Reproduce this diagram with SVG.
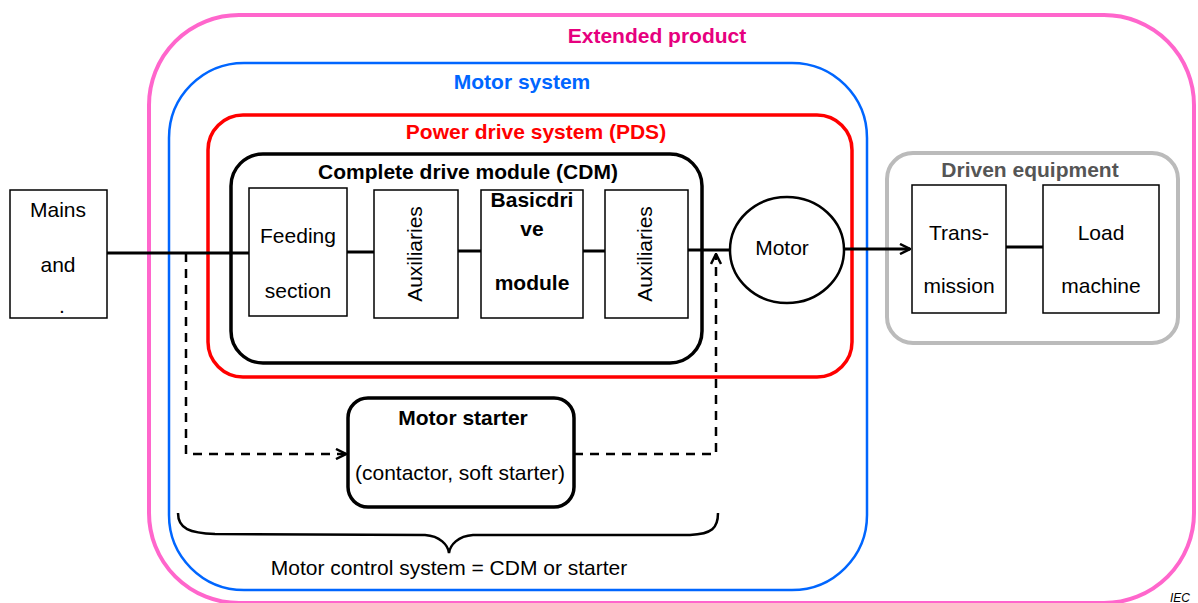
<svg xmlns="http://www.w3.org/2000/svg" width="1198" height="603" viewBox="0 0 1198 603">
<defs>
<style>
text{font-family:"Liberation Sans",Arial,sans-serif;font-size:21px;fill:#000}
.b{font-weight:bold}
.c{text-anchor:middle}
.box{fill:#fff;stroke:#000;stroke-width:1.5}
.ln{fill:none;stroke:#000;stroke-width:3}
.dash{fill:none;stroke:#000;stroke-width:2.5;stroke-dasharray:9,7}
</style>
<marker id="arr" viewBox="0 0 12 12" refX="11" refY="6" markerWidth="12" markerHeight="12" markerUnits="userSpaceOnUse" orient="auto">
<path d="M1,1 L11,6 L1,11" fill="none" stroke="#000" stroke-width="2.5"/>
</marker>
</defs>
<rect width="1198" height="603" fill="#fff"/>
<g id="extended-product">
<rect x="149" y="15" width="1045" height="588" rx="90" fill="none" stroke="#ff66cc" stroke-width="4"/>
<text class="b c" x="657" y="43" style="fill:#e6007e">Extended product</text>
</g>
<g id="motor-system">
<rect x="169" y="63" width="698" height="527" rx="75" fill="none" stroke="#0066ff" stroke-width="2.5"/>
<text class="b c" x="522" y="89" style="fill:#0066ff">Motor system</text>
</g>
<g id="pds">
<rect x="208" y="115" width="644" height="262" rx="35" fill="none" stroke="#ff0000" stroke-width="3.5"/>
<text class="b c" x="536" y="139" style="fill:#ff0000">Power drive system (PDS)</text>
</g>
<g id="cdm">
<rect x="231" y="154" width="471" height="209" rx="32" fill="none" stroke="#000" stroke-width="3.5"/>
<text class="b c" x="468" y="179">Complete drive module (CDM)</text>
</g>
<g id="driven-equipment">
<rect x="887" y="153" width="291" height="190" rx="26" fill="none" stroke="#bbbbbb" stroke-width="4"/>
<text class="b c" x="1030" y="177" style="fill:#555">Driven equipment</text>
</g>
<g id="connectors">
<line class="ln" x1="107" y1="253" x2="249" y2="253"/>
<line class="ln" x1="347" y1="252" x2="374" y2="252"/>
<line class="ln" x1="458" y1="251" x2="481" y2="251"/>
<line class="ln" x1="583" y1="251" x2="605" y2="251"/>
<line class="ln" x1="688" y1="250" x2="730" y2="250"/>
<line class="ln" x1="845" y1="249" x2="910" y2="249" marker-end="url(#arr)"/>
<line class="ln" x1="1006" y1="247" x2="1043" y2="247"/>
<path class="dash" d="M186,253 L186,454 L346,454" marker-end="url(#arr)"/>
<path class="dash" d="M574,454 L716,454 L716,254" marker-end="url(#arr)"/>
<path d="M178,513 C178,529 190,533 215,534 L425,535 C440,536 448,545 449,553 C450,545 458,536 473,535 L690,535 C712,534 718,528 718,513" fill="none" stroke="#000" stroke-width="2.5"/>
</g>
<g id="mains">
<rect class="box" x="10" y="190" width="97" height="128"/>
<text class="c" x="58" y="217">Mains</text>
<text class="c" x="58" y="272">and</text>
<text class="c" x="62" y="313">.</text>
</g>
<g id="feeding-section">
<rect class="box" x="249" y="188" width="98" height="128"/>
<text class="c" x="298" y="243">Feeding</text>
<text class="c" x="298" y="298">section</text>
</g>
<g id="auxiliaries-1">
<rect class="box" x="374" y="190" width="84" height="128"/>
<text class="c" transform="translate(422,254) rotate(-90)">Auxiliaries</text>
</g>
<g id="basic-drive-module">
<rect class="box" x="481" y="190" width="102" height="128"/>
<text class="b c" x="532" y="207">Basicdri</text>
<text class="b c" x="532" y="236">ve</text>
<text class="b c" x="532" y="290">module</text>
</g>
<g id="auxiliaries-2">
<rect class="box" x="605" y="190" width="83" height="128"/>
<text class="c" transform="translate(652,254) rotate(-90)">Auxiliaries</text>
</g>
<g id="motor">
<ellipse cx="787" cy="250" rx="57" ry="53" fill="#fff" stroke="#000" stroke-width="2.5"/>
<text class="c" x="782" y="255">Motor</text>
</g>
<g id="transmission">
<rect class="box" x="912" y="185" width="94" height="128"/>
<text class="c" x="959" y="240">Trans-</text>
<text class="c" x="959" y="293">mission</text>
</g>
<g id="load-machine">
<rect class="box" x="1043" y="185" width="116" height="128"/>
<text class="c" x="1101" y="240">Load</text>
<text class="c" x="1101" y="293">machine</text>
</g>
<g id="motor-starter">
<rect x="348" y="398" width="226" height="109" rx="20" fill="#fff" stroke="#000" stroke-width="3.5"/>
<text class="b c" x="463" y="425">Motor starter</text>
<text class="c" x="460" y="480">(contactor, soft starter)</text>
</g>
<g id="labels">
<text class="c" x="449" y="575">Motor control system = CDM or starter</text>
<text x="1170" y="602" style="font-size:12px;font-style:italic">IEC</text>
</g>
</svg>
